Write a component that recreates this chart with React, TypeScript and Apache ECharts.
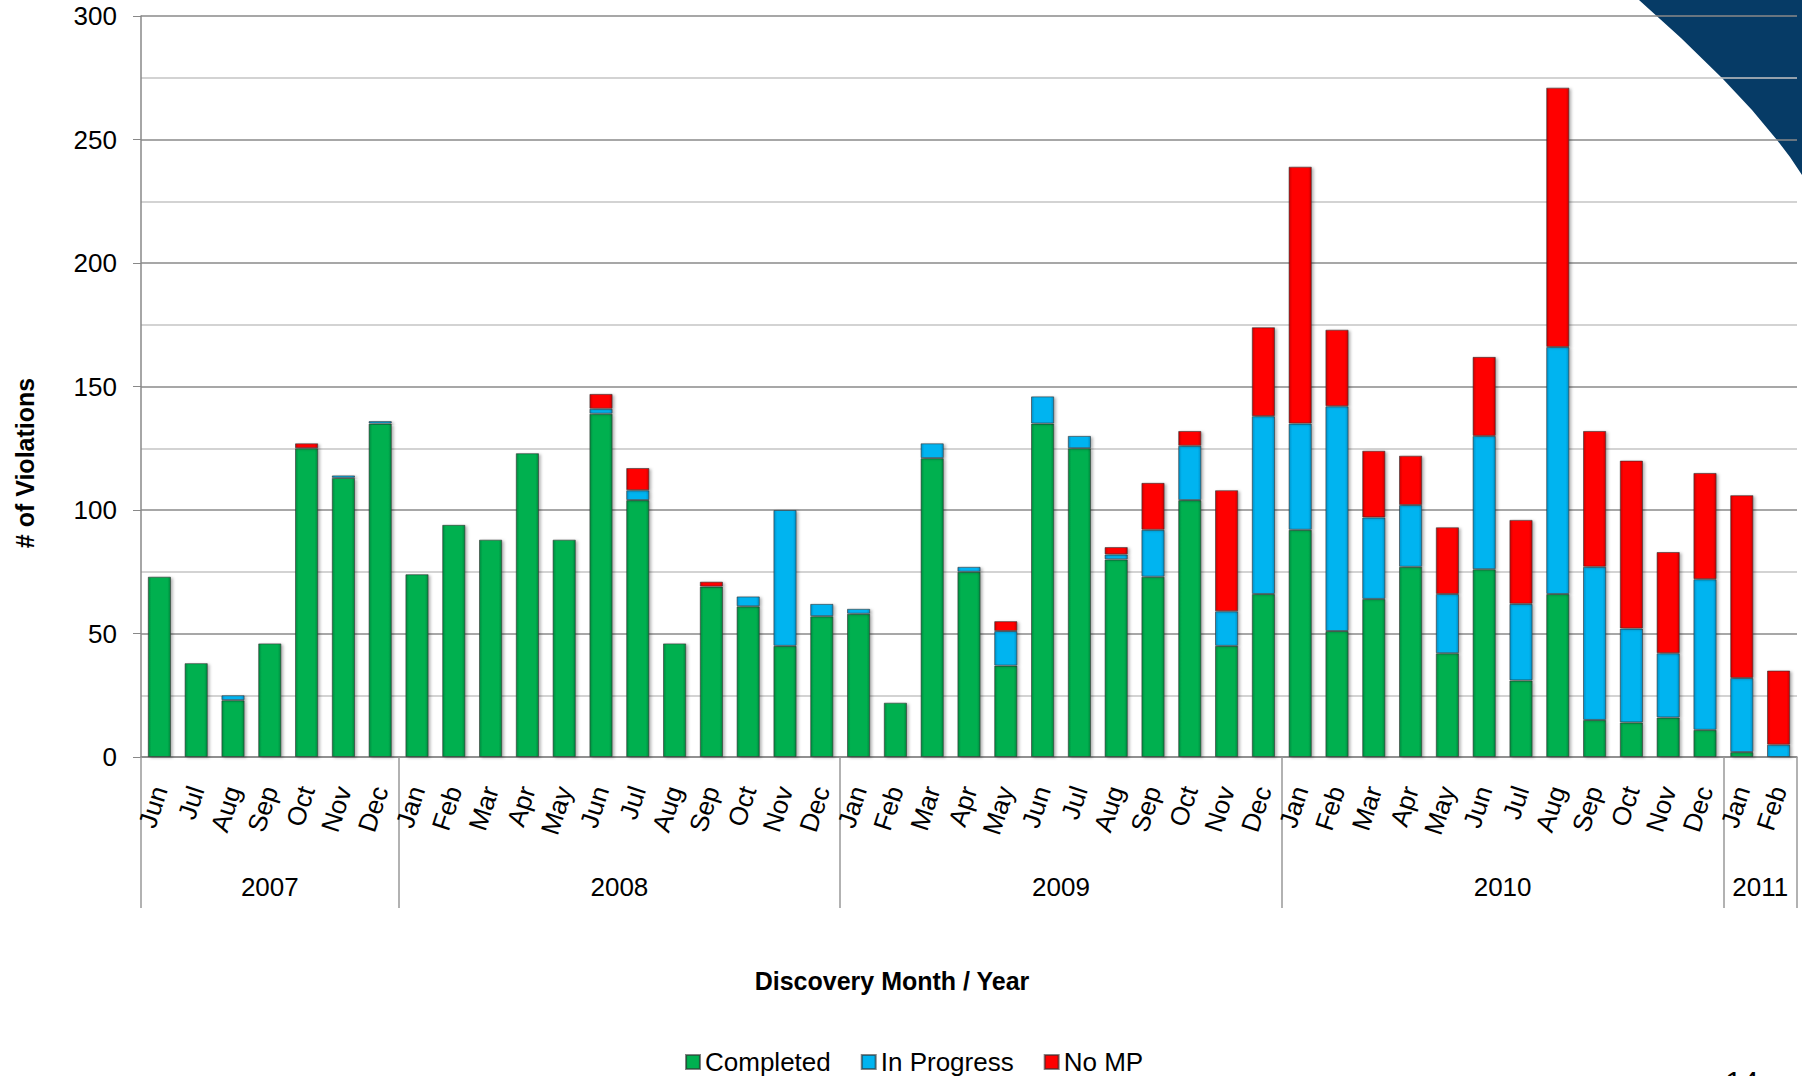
import React, { useEffect, useRef } from "react";
import * as echarts from "echarts";

const months = [
  "Jun", "Jul", "Aug", "Sep", "Oct", "Nov", "Dec",
  "Jan", "Feb", "Mar", "Apr", "May", "Jun", "Jul", "Aug", "Sep", "Oct", "Nov", "Dec",
  "Jan", "Feb", "Mar", "Apr", "May", "Jun", "Jul", "Aug", "Sep", "Oct", "Nov", "Dec",
  "Jan", "Feb", "Mar", "Apr", "May", "Jun", "Jul", "Aug", "Sep", "Oct", "Nov", "Dec",
  "Jan", "Feb",
];

const years = ["2007", "2008", "2009", "2010", "2011"];
const yearBoundaries = [0, 7, 19, 31, 43, 45];

const completed = [
  73, 38, 23, 46, 125, 113, 135,
  74, 94, 88, 123, 88, 139, 104, 46, 69, 61, 45, 57,
  58, 22, 121, 75, 37, 135, 125, 80, 73, 104, 45, 66,
  92, 51, 64, 77, 42, 76, 31, 66, 15, 14, 16, 11,
  2, 0,
];

const inProgress = [
  0, 0, 2, 0, 0, 1, 1,
  0, 0, 0, 0, 0, 2, 4, 0, 0, 4, 55, 5,
  2, 0, 6, 2, 14, 11, 5, 2, 19, 22, 14, 72,
  43, 91, 33, 25, 24, 54, 31, 100, 62, 38, 26, 61,
  30, 5,
];

const noMP = [
  0, 0, 0, 0, 2, 0, 0,
  0, 0, 0, 0, 0, 6, 9, 0, 2, 0, 0, 0,
  0, 0, 0, 0, 4, 0, 0, 3, 19, 6, 49, 36,
  104, 31, 27, 20, 27, 32, 34, 105, 55, 68, 41, 43,
  74, 30,
];

const yTicks = [0, 50, 100, 150, 200, 250, 300];

const FONT = "'Liberation Sans', Arial, sans-serif";

function grad(edge: string, base: string) {
  return {
    type: "linear",
    x: 0,
    y: 0,
    x2: 1,
    y2: 0,
    colorStops: [
      { offset: 0, color: edge },
      { offset: 0.14, color: base },
      { offset: 0.86, color: base },
      { offset: 1, color: edge },
    ],
  };
}

export default function App() {
  const ref = useRef<HTMLDivElement>(null);

  useEffect(() => {
    if (!ref.current) return;
    const chart = echarts.init(ref.current, undefined, { renderer: "svg" });

    const yearCenters = years.map(
      (_, i) => (yearBoundaries[i] + yearBoundaries[i + 1]) / 2
    );

    const mk = (name: string, data: number[], edge: string, base: string) => ({
      name,
      type: "bar",
      stack: "total",
      xAxisIndex: 0,
      yAxisIndex: 0,
      barWidth: "63%",
      data: data.map((v) => (v === 0 ? null : v)),
      itemStyle: {
        color: grad(edge, base),
        borderColor: "rgba(50,50,50,0.6)",
        borderWidth: 1,
        shadowColor: "rgba(0,0,0,0.3)",
        shadowBlur: 3,
        shadowOffsetX: 2,
        shadowOffsetY: 1,
      },
      emphasis: { disabled: true },
    });

    const option: any = {
      animation: false,
      backgroundColor: "#ffffff",
      textStyle: { fontFamily: FONT },
      grid: { left: 141, right: 5, top: 16, bottom: 319, containLabel: false },
      legend: {
        data: ["Completed", "In Progress", "No MP"],
        left: 680,
        top: 1044,
        icon: "rect",
        itemWidth: 14,
        itemHeight: 14,
        itemGap: 30,
        textStyle: { fontSize: 26, color: "#000", fontFamily: FONT },
      },
      xAxis: [
        {
          type: "category",
          data: months,
          position: "bottom",
          axisLine: { show: true, lineStyle: { color: "#888", width: 1.5 } },
          axisTick: { show: false },
          axisLabel: {
            interval: 0,
            rotate: 72,
            fontSize: 26,
            color: "#000",
            margin: 30,
            fontFamily: FONT,
          },
          splitLine: { show: false },
        },
        {
          type: "value",
          min: 0,
          max: 45,
          position: "bottom",
          offset: 0,
          axisLine: { show: false },
          splitLine: { show: false },
          axisTick: {
            show: true,
            inside: false,
            length: 151,
            customValues: yearBoundaries,
            lineStyle: { color: "#999", width: 1.5 },
          },
          axisLabel: {
            show: true,
            customValues: yearCenters,
            margin: 117,
            fontSize: 26,
            color: "#000",
            fontFamily: FONT,
            formatter: (v: number) => {
              const i = yearCenters.findIndex((c) => Math.abs(c - v) < 1e-6);
              return i >= 0 ? years[i] : "";
            },
          },
        },
      ],
      yAxis: {
        type: "value",
        min: yTicks[0],
        max: yTicks[yTicks.length - 1],
        interval: 50,
        axisLine: { show: true, lineStyle: { color: "#888", width: 1.5 } },
        axisTick: { show: true, inside: false, length: 8, lineStyle: { color: "#888" } },
        axisLabel: { fontSize: 26, color: "#000", margin: 24, fontFamily: FONT },
        splitLine: { show: true, lineStyle: { color: "#8a8a8a", width: 1.5 } },
        minorTick: { show: false, splitNumber: 2 },
        minorSplitLine: { show: true, lineStyle: { color: "#c4c4c4", width: 1.5 } },
      },
      graphic: {
        elements: [
          {
            type: "polygon",
            z: -10,
            silent: true,
            shape: {
              points: [
                [1639, 0],
                [1681, 38],
                [1722, 78],
                [1752, 110],
                [1777, 140],
                [1790, 157],
                [1802, 175],
                [1802, 0],
              ],
            },
            style: { fill: "#063b66" },
          },
          {
            type: "text",
            x: 25,
            y: 463,
            rotation: Math.PI / 2,
            style: {
              text: "# of Violations",
              font: `bold 25px ${FONT}`,
              fill: "#000",
              align: "center",
              verticalAlign: "middle",
            },
          },
          {
            type: "text",
            x: 892,
            y: 981,
            style: {
              text: "Discovery Month / Year",
              font: `bold 25px ${FONT}`,
              fill: "#000",
              align: "center",
              verticalAlign: "middle",
            },
          },
          {
            type: "text",
            x: 1742,
            y: 1066,
            style: {
              text: "14",
              font: `30px ${FONT}`,
              fill: "#000",
              align: "center",
              verticalAlign: "top",
            },
          },
        ],
      },
      series: [
        mk("Completed", completed, "#008a3e", "#00b050"),
        mk("In Progress", inProgress, "#0090c8", "#00b4f0"),
        mk("No MP", noMP, "#cc0000", "#ff0000"),
      ],
    };

    chart.setOption(option);
    return () => chart.dispose();
  }, []);

  return (
    <div
      ref={ref}
      style={{ position: "fixed", left: 0, top: 0, width: 1802, height: 1076 }}
    />
  );
}
